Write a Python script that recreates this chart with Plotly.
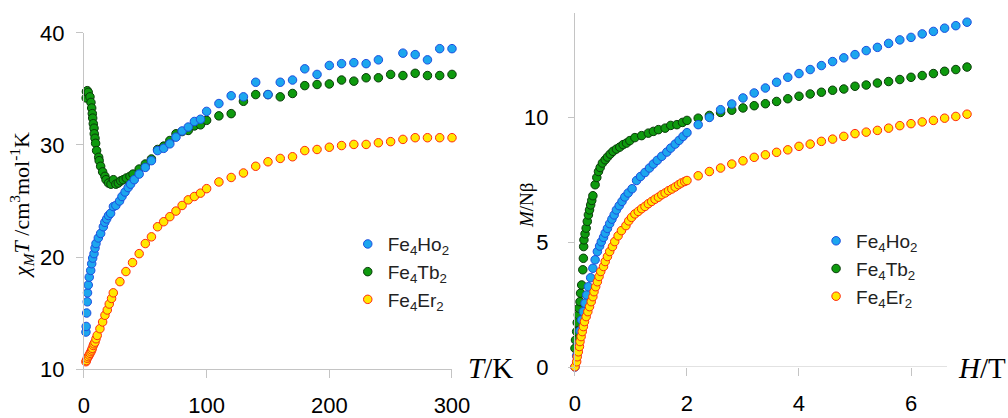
import plotly.graph_objects as go

# ---------------- Left panel: chi_M T vs T ----------------
T_ho = [1.6, 1.8, 2.2, 2.7, 2.9, 3.5, 4.3, 5.5, 6.3, 7.1, 8.2, 9.0, 9.8, 11.7, 13.6, 15.8,
        17.0, 18.5, 20.0, 21.7, 24.0, 26.0, 29.0, 31.0, 33.5, 36.0, 38.0, 41.0, 45, 50, 55,
        60, 65, 70, 75, 80, 85, 90, 95, 100, 110, 120, 130, 140, 150, 160, 170, 180, 190,
        200, 210, 220, 230, 240, 260, 270, 280, 290, 300]
chi_ho = [13.3, 13.8, 15.0, 16.0, 16.8, 17.5, 18.2, 18.8, 19.4, 19.9, 20.3, 20.8, 21.2, 21.7,
          22.1, 22.7, 23.1, 23.4, 23.7, 23.9, 24.5, 24.6, 25.0, 25.4, 25.8, 26.2, 26.5, 26.9,
          27.4, 28.0, 28.6, 29.5, 29.7, 30.1, 30.7, 31.25, 31.6, 32.1, 32.3, 33.0, 33.7, 34.4,
          34.3, 35.6, 34.5, 35.6, 35.8, 36.8, 36.3, 37.1, 37.26, 37.35, 37.26, 37.6, 38.2,
          38.07, 37.6, 38.6, 38.6]

T_tb = [1.8, 2.0, 2.7, 3.5, 4.9, 5.7, 6.3, 6.8, 7.1, 7.6, 8.2, 8.4, 9.0, 9.5, 10.3, 12.0,
        12.4, 13.6, 15.2, 17.1, 18.0, 20.0, 22.0, 24.0, 26.0, 28.0, 30.0, 32.0, 34.5, 37.5,
        40, 45, 50, 55, 60, 65, 70, 75, 80, 85, 90, 95, 100, 110, 120, 130, 140, 150, 160,
        170, 180, 190, 200, 210, 220, 230, 240, 250, 260, 270, 280, 290, 300]
chi_tb = [34.2, 34.76, 34.85, 34.7, 34.3, 33.8, 33.3, 32.8, 32.4, 31.9, 31.5, 31.0, 30.6,
          30.15, 29.5, 28.9, 28.6, 28.1, 27.6, 27.2, 26.9, 26.6, 26.5, 26.9, 26.5, 26.6, 26.8,
          26.9, 27.05, 27.2, 27.4, 27.85, 28.3, 28.75, 29.6, 29.9, 30.4, 31.0, 31.2, 31.3,
          31.7, 31.8, 32.2, 32.6, 32.8, 33.9, 34.5, 34.5, 34.3, 34.6, 35.3, 35.4, 35.45,
          35.8, 35.7, 36.0, 36.0, 36.3, 36.2, 36.4, 36.2, 36.2, 36.3]

T_er = [1.6, 2.0, 2.7, 3.5, 4.3, 5.0, 5.7, 6.3, 6.8, 7.6, 8.2, 9.0, 9.8, 10.8, 13.0, 15.2,
        17.1, 19.0, 20.6, 22.5, 23.9, 29.3, 34.2, 39.6, 45, 50, 55, 60, 65, 70, 75, 80, 85,
        90, 95, 100, 110, 120, 130, 140, 150, 160, 170, 180, 190, 200, 210, 220, 230, 240,
        250, 260, 270, 280, 290, 300]
chi_er = [10.65, 10.75, 10.96, 11.1, 11.25, 11.4, 11.55, 11.7, 11.85, 12.1, 12.25, 12.4,
          12.7, 13.0, 13.6, 14.2, 14.8, 15.27, 15.8, 16.3, 16.8, 17.8, 18.7, 19.5, 20.3,
          21.2, 21.8, 22.7, 23.15, 23.6, 24.1, 24.6, 25.1, 25.4, 25.7, 26.1, 26.7, 27.1,
          27.5, 28.1, 28.5, 28.8, 28.95, 29.5, 29.6, 29.8, 29.95, 30.05, 30.05, 30.2, 30.3,
          30.5, 30.65, 30.65, 30.65, 30.65]

# ---------------- Right panel: M/Nbeta vs H ----------------
H_ho = [0.00, 0.03, 0.06, 0.09, 0.12, 0.15, 0.18, 0.21, 0.24, 0.28, 0.32, 0.36, 0.40, 0.44,
        0.47, 0.51, 0.54, 0.58, 0.62, 0.66, 0.70, 0.74, 0.79, 0.84, 0.89, 0.95, 1.02, 1.10,
        1.17, 1.25, 1.33, 1.40, 1.47, 1.55, 1.64, 1.71, 1.79, 1.86, 1.93, 2.00, 2.2, 2.4,
        2.6, 2.8, 3.0, 3.2, 3.4, 3.6, 3.8, 4.0, 4.2, 4.4, 4.6, 4.8, 5.0, 5.2, 5.4, 5.6, 5.8,
        6.0, 6.2, 6.4, 6.6, 6.8, 7.0]
M_ho = [0.00, 0.45, 0.95, 1.45, 1.89, 2.22, 2.56, 2.89, 3.22, 3.58, 3.96, 4.30, 4.63, 4.85,
        5.02, 5.20, 5.37, 5.56, 5.75, 5.93, 6.10, 6.30, 6.47, 6.64, 6.82, 6.98, 7.15, 7.48,
        7.64, 7.80, 7.98, 8.14, 8.29, 8.45, 8.62, 8.78, 8.94, 9.09, 9.25, 9.40, 9.72, 10.01,
        10.32, 10.55, 10.79, 10.99, 11.19, 11.42, 11.62, 11.77, 11.93, 12.09, 12.25, 12.40,
        12.53, 12.69, 12.82, 12.98, 13.12, 13.22, 13.36, 13.46, 13.59, 13.69, 13.83]

H_tb = [0.00, 0.01, 0.03, 0.04, 0.06, 0.07, 0.09, 0.10, 0.12, 0.14, 0.15, 0.155, 0.16, 0.18,
        0.20, 0.22, 0.24, 0.26, 0.28, 0.30, 0.32, 0.36, 0.39, 0.42, 0.45, 0.49, 0.54, 0.58,
        0.63, 0.68, 0.74, 0.80, 0.86, 0.92, 0.98, 1.07, 1.19, 1.31, 1.40, 1.49, 1.61, 1.71,
        1.82, 1.92, 2.00, 2.2, 2.4, 2.6, 2.8, 3.0, 3.2, 3.4, 3.6, 3.8, 4.0, 4.2, 4.4, 4.6,
        4.8, 5.0, 5.2, 5.4, 5.6, 5.8, 6.0, 6.2, 6.4, 6.6, 6.8, 7.0]
M_tb = [0.75, 1.08, 1.42, 1.78, 2.09, 2.36, 2.62, 2.96, 3.29, 3.90, 4.36, 4.83, 5.10, 5.34,
        5.57, 5.84, 6.10, 6.30, 6.50, 6.68, 6.87, 7.31, 7.60, 7.84, 8.00, 8.18, 8.31, 8.42,
        8.54, 8.65, 8.74, 8.82, 8.92, 8.98, 9.08, 9.20, 9.28, 9.38, 9.45, 9.52, 9.58, 9.69,
        9.72, 9.81, 9.89, 9.98, 10.09, 10.21, 10.30, 10.39, 10.48, 10.56, 10.65, 10.76,
        10.86, 10.95, 11.02, 11.10, 11.15, 11.26, 11.31, 11.39, 11.45, 11.53, 11.62, 11.69,
        11.77, 11.86, 11.93, 12.03]

H_er = [0.00, 0.03, 0.04, 0.06, 0.08, 0.09, 0.11, 0.13, 0.15, 0.17, 0.20, 0.23, 0.26, 0.29,
        0.32, 0.34, 0.37, 0.40, 0.43, 0.46, 0.51, 0.54, 0.58, 0.62, 0.67, 0.71, 0.77, 0.83,
        0.91, 0.96, 1.01, 1.07, 1.13, 1.19, 1.25, 1.31, 1.37, 1.43, 1.49, 1.55, 1.61, 1.67,
        1.73, 1.79, 1.85, 1.90, 1.96, 2.00, 2.2, 2.4, 2.6, 2.8, 3.0, 3.2, 3.4, 3.6, 3.8, 4.0,
        4.2, 4.4, 4.6, 4.8, 5.0, 5.2, 5.4, 5.6, 5.8, 6.0, 6.2, 6.4, 6.6, 6.8, 7.0]
M_er = [0.01, 0.21, 0.41, 0.61, 0.82, 1.02, 1.22, 1.42, 1.62, 1.82, 2.02, 2.22, 2.42, 2.62,
        2.82, 3.02, 3.22, 3.42, 3.63, 3.83, 4.03, 4.23, 4.43, 4.63, 4.83, 5.03, 5.26, 5.47,
        5.67, 5.86, 6.00, 6.14, 6.24, 6.35, 6.44, 6.55, 6.64, 6.73, 6.81, 6.91, 6.98, 7.07,
        7.14, 7.22, 7.31, 7.38, 7.44, 7.48, 7.67, 7.84, 7.98, 8.14, 8.27, 8.41, 8.51, 8.61,
        8.71, 8.85, 8.94, 9.05, 9.14, 9.25, 9.36, 9.42, 9.49, 9.58, 9.68, 9.76, 9.83, 9.89,
        9.98, 10.05, 10.14]

names = ["Fe<sub>4</sub>Ho<sub>2</sub>", "Fe<sub>4</sub>Tb<sub>2</sub>", "Fe<sub>4</sub>Er<sub>2</sub>"]
fills = ["#1CA6EE", "#0E9A0E", "#FFE800"]
edges = ["#1D4FE0", "#0A3A0A", "#FF2A10"]
ranks = [1, 2, 3]

left = [(T_ho, chi_ho), (T_tb, chi_tb), (T_er, chi_er)]
right = [(H_ho, M_ho), (H_tb, M_tb), (H_er, M_er)]
draw_order = [1, 0, 2]

fig = go.Figure()
for i in draw_order:
    fig.add_trace(go.Scatter(
        x=left[i][0], y=left[i][1], mode="markers", name=names[i],
        marker=dict(size=8.5, color=fills[i], line=dict(color=edges[i], width=1)),
        cliponaxis=False, legendrank=ranks[i], legend="legend",
        xaxis="x", yaxis="y"))
for i in draw_order:
    fig.add_trace(go.Scatter(
        x=right[i][0], y=right[i][1], mode="markers", name=names[i],
        marker=dict(size=8.5, color=fills[i], line=dict(color=edges[i], width=1)),
        cliponaxis=False, legendrank=ranks[i], legend="legend2",
        xaxis="x2", yaxis="y2"))

axis_color = "#C4C4C4"
axis_common = dict(linecolor=axis_color, linewidth=1, ticks="outside",
                   tickcolor=axis_color, tickwidth=1, showgrid=False, zeroline=False,
                   automargin=False,
                   tickfont=dict(family="Liberation Sans, Arial", size=22, color="#000000"))

# the H axis line stops short of the last field points (as in the original figure)
H_axis_end = 6.643

fig.update_layout(
    width=1008, height=418,
    margin=dict(l=0, r=0, t=0, b=0, autoexpand=False),
    paper_bgcolor="white", plot_bgcolor="white",
    xaxis=dict(domain=[0.0833, 0.4484], range=[0, 300], tickvals=[0, 100, 200, 300],
               showline=True, ticklen=8, ticklabelstandoff=9, anchor="y", **axis_common),
    yaxis=dict(domain=[0.1172, 0.9211], range=[10, 40], tickvals=[10, 20, 30, 40],
               showline=True, ticklen=7, ticklabelstandoff=7, anchor="x", **axis_common),
    xaxis2=dict(domain=[0.5704, 0.9649], range=[0, 7.1], tickvals=[0, 2, 4, 6],
                showline=False, ticklen=8, ticklabelstandoff=9, anchor="y2", **axis_common),
    yaxis2=dict(domain=[0.122, 0.969], range=[0, 14.2], tickvals=[0, 5, 10],
                showline=True, ticklen=6, ticklabelstandoff=15, anchor="x2", **axis_common),
    legend=dict(x=0.345, y=0.4615, xanchor="left", yanchor="top", bgcolor="rgba(0,0,0,0)",
                font=dict(family="Liberation Sans, Arial", size=19, color="#222222"),
                itemwidth=30, traceorder="normal"),
    legend2=dict(x=0.8096, y=0.469, xanchor="left", yanchor="top", bgcolor="rgba(0,0,0,0)",
                 font=dict(family="Liberation Sans, Arial", size=19, color="#222222"),
                 itemwidth=30, traceorder="normal"),
    showlegend=True,
)

fig.add_shape(type="line", xref="x2", yref="y2", x0=0, x1=H_axis_end, y0=0, y1=0,
              line=dict(color=axis_color, width=1), layer="below")

serif = "Liberation Serif, Times New Roman, serif"
fig.add_annotation(xref="paper", yref="paper", x=22 / 1008, y=(418 - 205) / 418,
                   text="<i>χ<sub>M</sub>T</i> /cm<sup>3</sup>mol<sup>-1</sup>K",
                   textangle=-90, showarrow=False, xanchor="center", yanchor="middle",
                   font=dict(family=serif, size=22, color="#000000"))
fig.add_annotation(xref="paper", yref="paper", x=527 / 1008, y=(418 - 205) / 418,
                   text="<i>M</i>/Nβ", textangle=-90, showarrow=False,
                   xanchor="center", yanchor="middle",
                   font=dict(family=serif, size=19, color="#000000"))
fig.add_annotation(xref="paper", yref="paper", x=466 / 1008, y=(418 - 368) / 418,
                   text="<i>T</i>/K", showarrow=False, xanchor="left", yanchor="middle",
                   font=dict(family=serif, size=29, color="#000000"))
fig.add_annotation(xref="paper", yref="paper", x=956 / 1008, y=(418 - 368) / 418,
                   text="<i>H</i>/T", showarrow=False, xanchor="left", yanchor="middle",
                   font=dict(family=serif, size=29, color="#000000"))

# remove the browser's default 8px page margin so the figure sits at the window origin
fig.write_html("out.html", config={"displayModeBar": False},
               post_script="document.body.style.margin='0';")
